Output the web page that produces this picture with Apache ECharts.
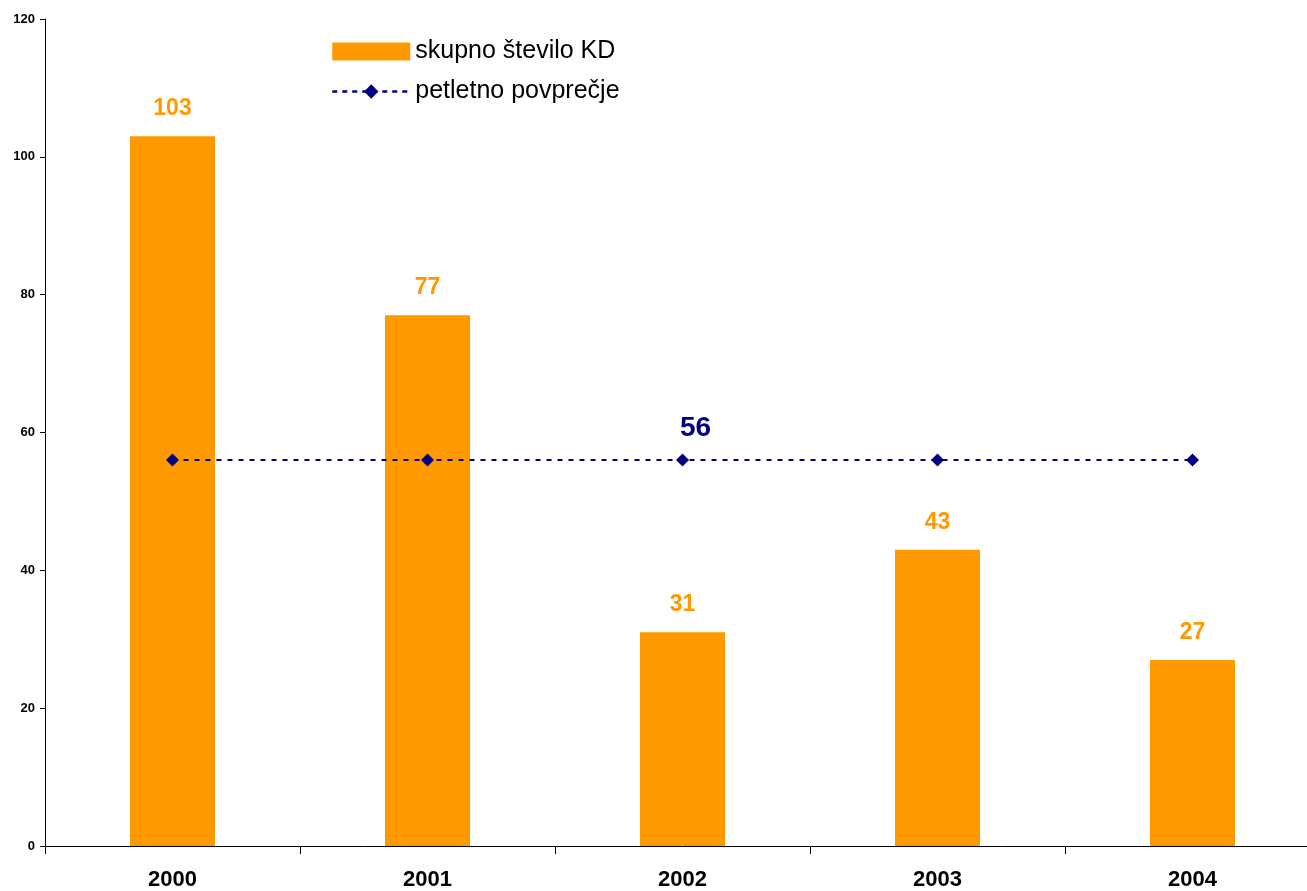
<!DOCTYPE html>
<html><head><meta charset="utf-8">
<script src="https://cdn.jsdelivr.net/npm/echarts@6/dist/echarts.min.js"></script>
<style>html,body{margin:0;padding:0;background:#fff;overflow:hidden}#c{width:1321px;height:891px}</style>
</head><body><div id="c"></div>
<script>
const years = ['2000','2001','2002','2003','2004'];
const totals = [103, 77, 31, 43, 27];
const average = [56, 56, 56, 56, 56];
const yTicks = [0, 20, 40, 60, 80, 100, 120];

const chart = echarts.init(document.getElementById('c'));
chart.setOption({
  animation: false,
  backgroundColor: '#ffffff',
  textStyle: { fontFamily: 'Liberation Sans, Arial, sans-serif' },
  grid: { left: 45, top: 19, height: 829, width: 1275, containLabel: false },
  legend: {
    orient: 'vertical', left: 326, top: 34, itemGap: 15,
    itemWidth: 78, itemHeight: 18,
    textStyle: { fontSize: 25, color: '#000', fontFamily: 'Liberation Sans, Arial, sans-serif' },
    data: [
      { name: 'skupno število KD', icon: 'rect' },
      { name: 'petletno povprečje', lineStyle: { width: 2.5, type: [5, 5] } }
    ]
  },
  xAxis: {
    type: 'category', data: years, boundaryGap: true,
    axisLine: { lineStyle: { color: '#000', width: 1 } },
    axisTick: { show: true, length: 8, inside: false, lineStyle: { color: '#000' } },
    axisLabel: { fontSize: 22, fontWeight: 'bold', color: '#000', margin: 23 }
  },
  yAxis: {
    type: 'value', min: yTicks[0], max: yTicks[yTicks.length-1], interval: 20,
    splitLine: { show: false },
    axisLine: { show: true, lineStyle: { color: '#000', width: 1 } },
    axisTick: { show: true, length: 5, lineStyle: { color: '#000' } },
    axisLabel: { fontSize: 13, fontWeight: 'bold', color: '#000', margin: 10 }
  },
  series: [
    {
      name: 'skupno število KD', type: 'bar', data: totals, barWidth: 85,
      itemStyle: { color: '#FF9900' },
      label: { show: true, position: 'top', distance: 16, fontSize: 23, fontWeight: 'bold', color: '#FF9900' }
    },
    {
      name: 'petletno povprečje', type: 'line', data: average.map((v, i) => (i === 2 ? { value: v, label: { show: true } } : v)),
      symbol: 'diamond', symbolSize: 13,
      itemStyle: { color: '#000080' },
      lineStyle: { color: '#000080', width: 2, type: [5, 6] },
      label: { show: false, position: 'top', distance: 11, offset: [13, 0], fontSize: 28, fontWeight: 'bold', color: '#000080' }
    }
  ]
});
</script></body></html>
